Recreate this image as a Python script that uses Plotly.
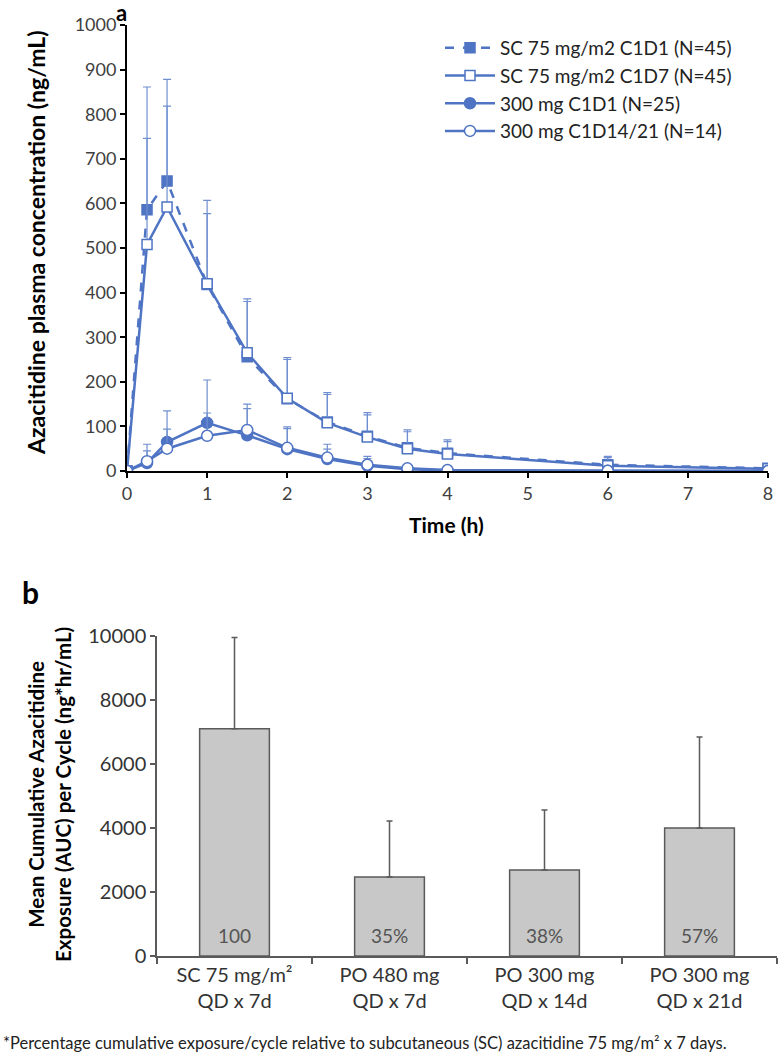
import plotly.graph_objects as go

# ---------------- Panel a data ----------------
time_h = [0, 0.25, 0.5, 1, 1.5, 2, 2.5, 3, 3.5, 4, 6, 8]

sc_c1d1_mean = [0, 586, 650, 418, 256, 162, 110, 78, 52, 40, 14, 6]
sc_c1d1_upper = [0, 861, 878, 607, 386, 254, 176, 131, 92, 70, 33, 12]

sc_c1d7_mean = [0, 508, 592, 420, 265, 163, 108, 76, 50, 38, 12, 5]
sc_c1d7_upper = [0, 746, 818, 577, 380, 250, 172, 126, 88, 66, 30, 10]

po_c1d1_mean = [0, 18, 65, 108, 80, 49, 27, 12, 4, 1, 0.5, 0]
po_c1d1_upper = [0, 60, 135, 204, 140, 99, 60, 33, 12, 5, 2, 0]

po_c1d14_mean = [0, 22, 50, 79, 92, 52, 30, 14, 6, 2, 0.5, 0]
po_c1d14_upper = [0, 45, 94, 130, 150, 95, 49, 28, 10, 4, 1, 0]

series_names = [
    "SC 75 mg/m2 C1D1 (N=45)",
    "SC 75 mg/m2 C1D7 (N=45)",
    "300 mg C1D1 (N=25)",
    "300 mg C1D14/21 (N=14)",
]

# ---------------- Panel b data ----------------
regimens = [
    "SC 75 mg/m²<br>QD x 7d",
    "PO 480 mg<br>QD x 7d",
    "PO 300 mg<br>QD x 14d",
    "PO 300 mg<br>QD x 21d",
]
auc_mean = [7100, 2470, 2690, 4000]
auc_upper = [9950, 4220, 4560, 6840]
pct_labels = ["100", "35%", "38%", "57%"]

# ---------------- Styling ----------------
W, H = 779, 1057
BLUE = "#4f74c4"
FONT = "Lato"
GRAY_TXT = "#404040"


def px_x(p):
    return p / W


def px_y(p):
    return 1 - p / H


fig = go.Figure()

series = [
    (sc_c1d1_mean, sc_c1d1_upper, "square", True, "dash"),
    (sc_c1d7_mean, sc_c1d7_upper, "square", False, "solid"),
    (po_c1d1_mean, po_c1d1_upper, "circle", True, "solid"),
    (po_c1d14_mean, po_c1d14_upper, "circle", False, "solid"),
]

for i, (mean, upper, sym, filled, dash) in enumerate(series):
    plus = [u - m for u, m in zip(upper, mean)]
    fig.add_trace(
        go.Scatter(
            x=time_h,
            y=mean,
            mode="lines+markers",
            name=series_names[i],
            legendgroup=f"g{i}",
            line=dict(color=BLUE, width=2.5, dash=dash),
            marker=dict(
                symbol=sym,
                size=10 if sym == "square" else 11,
                color=BLUE if filled else "white",
                line=dict(color=BLUE, width=1.5),
            ),
            error_y=dict(
                type="data",
                symmetric=False,
                array=plus,
                arrayminus=[0] * len(plus),
                color="#6f8fd0",
                thickness=1.2,
                width=4,
            ),
            xaxis="x",
            yaxis="y",
        )
    )

fig.add_trace(
    go.Bar(
        x=regimens,
        y=auc_mean,
        width=0.45,
        marker=dict(color="#c8c8c8", line=dict(color="#5a5a5a", width=1.5)),
        error_y=dict(
            type="data",
            symmetric=False,
            array=[u - m for u, m in zip(auc_upper, auc_mean)],
            arrayminus=[0] * len(auc_mean),
            color="#5a5a5a",
            thickness=1.5,
            width=3,
        ),
        showlegend=False,
        xaxis="x2",
        yaxis="y2",
    )
)

annotations = []
for cat, lab in zip(regimens, pct_labels):
    annotations.append(
        dict(
            x=cat, y=650, xref="x2", yref="y2", text=lab, showarrow=False,
            xanchor="center", yanchor="middle",
            font=dict(family=FONT, size=19, color="#555555"),
        )
    )

annotations += [
    dict(x=px_x(121), y=px_y(13), xref="paper", yref="paper", text="<b>a</b>",
         xanchor="center", yanchor="middle",
         showarrow=False, font=dict(family=FONT, size=22, color="black")),
    dict(x=px_x(30), y=px_y(592), xref="paper", yref="paper", text="<b>b</b>",
         xanchor="center", yanchor="middle",
         showarrow=False, font=dict(family=FONT, size=30, color="black")),
    dict(x=px_x(36), y=px_y(243), xref="paper", yref="paper",
         xanchor="center", yanchor="middle",
         text="<b>Azacitidine plasma concentration (ng/mL)</b>", textangle=-90,
         showarrow=False, font=dict(family=FONT, size=23, color="black")),
    dict(x=px_x(446), y=px_y(524), xref="paper", yref="paper", text="<b>Time (h)</b>",
         xanchor="center", yanchor="middle",
         showarrow=False, font=dict(family=FONT, size=21, color="black")),
    dict(x=px_x(49), y=px_y(795), xref="paper", yref="paper",
         xanchor="center", yanchor="middle",
         text="<b>Mean Cumulative Azacitidine<br>Exposure (AUC) per Cycle (ng*hr/mL)</b>",
         textangle=-90, showarrow=False,
         font=dict(family=FONT, size=20.5, color="black")),
    dict(x=px_x(1), y=px_y(1043), xref="paper", yref="paper", xanchor="left",
         yanchor="middle",
         text="*Percentage cumulative exposure/cycle relative to subcutaneous (SC) azacitidine 75 mg/m² x 7 days.",
         showarrow=False, font=dict(family=FONT, size=16.5, color="#222222")),
]

fig.update_layout(
    template="none",
    width=W,
    height=H,
    margin=dict(l=0, r=0, t=0, b=0, pad=0, autoexpand=False),
    paper_bgcolor="white",
    plot_bgcolor="white",
    font=dict(family=FONT, color=GRAY_TXT),
    showlegend=True,
    legend=dict(
        x=px_x(440), y=px_y(29), xanchor="left", yanchor="top",
        font=dict(family=FONT, size=19, color="#222222"),
        bgcolor="rgba(0,0,0,0)", tracegroupgap=0, itemwidth=50,
    ),
    xaxis=dict(
        domain=[px_x(127), px_x(768)], range=[0, 8], tickmode="array",
        tickvals=list(range(9)), ticks="outside", ticklen=5, tickwidth=1.5,
        tickcolor="black", showline=True, linecolor="black", linewidth=2,
        showgrid=False, zeroline=False, anchor="y", automargin=False,
        tickfont=dict(family=FONT, size=18, color=GRAY_TXT),
    ),
    yaxis=dict(
        domain=[px_y(471), px_y(25)], range=[0, 1000], dtick=100,
        tickformat="d",
        ticks="outside", ticklen=5, tickwidth=1.5, tickcolor="black",
        showline=True, linecolor="black", linewidth=2, showgrid=False,
        zeroline=False, anchor="x", automargin=False,
        tickfont=dict(family=FONT, size=18, color=GRAY_TXT),
    ),
    xaxis2=dict(
        domain=[px_x(157), px_x(777)], type="category", tickson="boundaries",
        ticks="outside", ticklen=6, tickwidth=1.5, tickcolor="#5a5a5a",
        showline=True, linecolor="#5a5a5a", linewidth=1.5, showgrid=False,
        anchor="y2", automargin=False,
        tickfont=dict(family=FONT, size=20, color="#333333"),
    ),
    yaxis2=dict(
        domain=[px_y(956), px_y(636)], range=[0, 10000], dtick=2000,
        tickformat="d",
        ticks="outside", ticklen=5, tickwidth=1.5, tickcolor="#5a5a5a",
        showline=True, linecolor="#5a5a5a", linewidth=1.5, showgrid=False,
        zeroline=False, anchor="x2", automargin=False,
        tickfont=dict(family=FONT, size=20, color="#333333"),
    ),
    annotations=annotations,
)

fig.write_html(
    "out.html",
    config={"displayModeBar": False},
    post_script="document.body.style.margin='0';document.body.style.overflow='hidden';",
)
